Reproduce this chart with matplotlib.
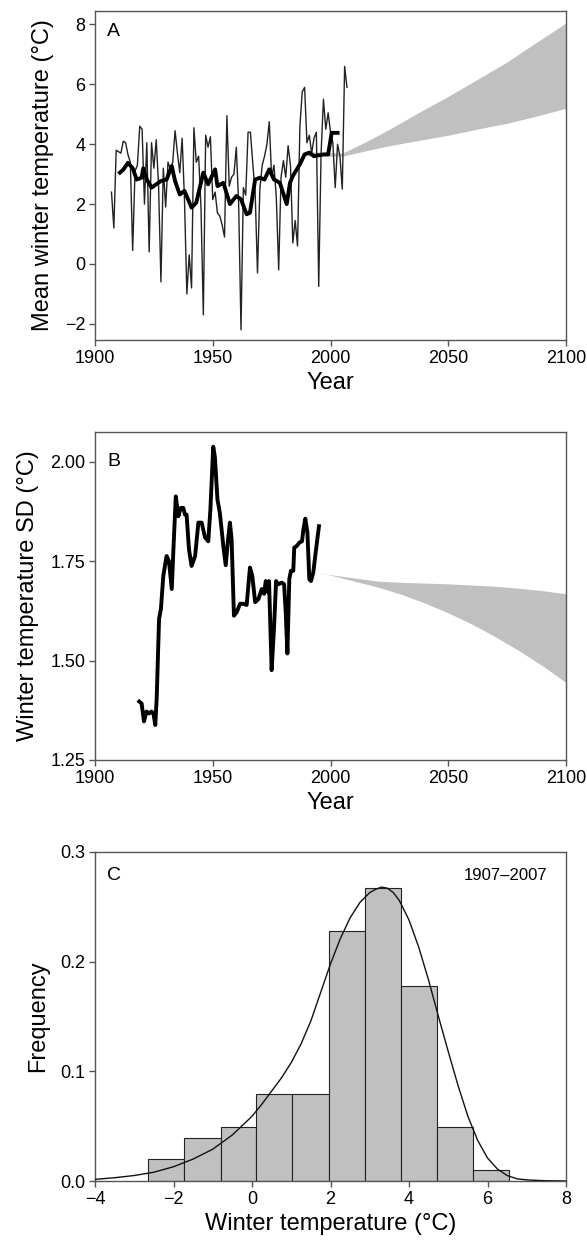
import numpy as np
import matplotlib
matplotlib.use("Agg")
import matplotlib.pyplot as plt

plt.rcParams['font.family'] = ['Liberation Sans', 'DejaVu Sans']

# ---------------- Panel A data ----------------
years_a = list(range(1907, 2008))
temp_a = [2.4, 1.2, 3.8, 3.75, 3.7, 4.1, 4.05, 3.65, 3.4, 0.45,
          3.1, 3.3, 4.6, 4.5, 2.0, 4.05, 0.4, 4.05, 3.2, 4.15,
          2.6, -0.6, 3.2, 1.9, 3.4, 3.15, 3.4, 4.45, 3.7, 3.05,
          4.2, 2.15, -1.0, 0.3, -0.8, 4.55, 3.4, 3.6, 1.9, -1.7,
          4.3, 3.9, 4.25, 2.15, 2.4, 1.7, 1.6, 1.3, 0.9, 4.95,
          2.6, 2.9, 3.0, 3.9, 2.0, -2.2, 2.55, 2.3, 4.4, 4.4,
          3.35, 2.4, -0.3, 2.5, 3.3, 3.6, 4.0, 4.75, 2.9, 3.3,
          2.2, -0.2, 2.9, 3.45, 2.9, 3.95, 3.3, 0.7, 1.45, 0.6,
          4.6, 5.75, 5.9, 4.05, 4.3, 3.7, 4.2, 4.4, -0.75, 3.7,
          5.5, 4.5, 5.05, 4.4, 4.05, 2.55, 4.0, 3.6, 2.5, 6.6,
          5.9]

smooth_years_a = [1910.6, 1912, 1914, 1916, 1917.7, 1919.8, 1920.5, 1922, 1924, 1926,
                  1928, 1930.4, 1932.6, 1934, 1936, 1938, 1941, 1943, 1946, 1948,
                  1951, 1952, 1954.5, 1957.3, 1960, 1962, 1964.4, 1965.8, 1968, 1970,
                  1972, 1974, 1976, 1978.5, 1981.4, 1982.8, 1984, 1987, 1989, 1991,
                  1993, 1997, 1999, 2000.5, 2003]
smooth_a = [3.05, 3.15, 3.38, 3.2, 2.82, 2.88, 3.2, 2.82, 2.55, 2.66,
            2.77, 2.82, 3.27, 2.77, 2.32, 2.44, 1.88, 2.05, 3.05, 2.66,
            3.16, 2.6, 2.71, 2.0, 2.27, 2.16, 1.66, 1.71, 2.82, 2.88,
            2.82, 3.16, 2.82, 2.71, 2.0, 2.71, 2.94, 3.33, 3.66, 3.72,
            3.6, 3.66, 3.66, 4.38, 4.38]

proj_years_a = [1990, 2005, 2015, 2025, 2037, 2050, 2062, 2075, 2087, 2100]
proj_low_a = [3.6, 3.6, 3.78, 3.95, 4.12, 4.3, 4.5, 4.7, 4.93, 5.2]
proj_high_a = [3.75, 3.7, 4.08, 4.5, 5.04, 5.6, 6.15, 6.75, 7.38, 8.05]

# ---------------- Panel B data ----------------
years_b = [1918.8, 1919.8, 1920.8, 1921.9, 1923, 1924, 1924.8, 1925.6, 1926.2, 1927.2,
           1928, 1929, 1930.4, 1931.4, 1932.6, 1933.3, 1934.3, 1935.4, 1936.4, 1937.5,
           1938.2, 1938.9, 1939.9, 1941, 1942.5, 1943.9, 1945.3, 1946.7, 1948.1, 1949,
           1950.2, 1950.9, 1952, 1953, 1954.5, 1955.5, 1956.5, 1957.3, 1958, 1959,
           1960.2, 1961.6, 1963, 1964.4, 1965.8, 1966.8, 1968, 1969.4, 1970.8, 1971.8,
           1972.5, 1973.5, 1973.9, 1975, 1976, 1976.9, 1977.8, 1979.3, 1980.3, 1981,
           1981.7, 1982.5, 1983.2, 1984.2, 1984.6, 1985.6, 1986.8, 1987.9, 1988.5, 1989.3,
           1990.2, 1991, 1991.7, 1992.7, 1993.7, 1995.1]
sd_b = [1.397, 1.392, 1.347, 1.372, 1.367, 1.372, 1.367, 1.338, 1.405, 1.605,
        1.63, 1.713, 1.763, 1.75, 1.68, 1.78, 1.913, 1.863, 1.884, 1.884,
        1.867, 1.867, 1.78, 1.738, 1.763, 1.847, 1.847, 1.81, 1.8, 1.88,
        2.038, 2.013, 1.905, 1.872, 1.788, 1.74, 1.805, 1.847, 1.805, 1.613,
        1.622, 1.643, 1.643, 1.64, 1.734, 1.713, 1.647, 1.655, 1.68, 1.668,
        1.7, 1.672, 1.7, 1.476, 1.58, 1.7, 1.692, 1.696, 1.692, 1.62,
        1.518, 1.705, 1.726, 1.726, 1.784, 1.788, 1.797, 1.80, 1.83, 1.857,
        1.822, 1.705, 1.70, 1.722, 1.772, 1.838]

proj_years_b = [1994, 2000, 2010, 2020, 2030, 2040, 2050, 2060, 2070, 2080, 2090, 2100]
proj_low_b = [1.72, 1.715, 1.70, 1.685, 1.667, 1.645, 1.62, 1.592, 1.56, 1.525, 1.487, 1.445]
proj_high_b = [1.72, 1.716, 1.708, 1.700, 1.697, 1.695, 1.693, 1.690, 1.687, 1.682, 1.676, 1.668]

# ---------------- Panel C data ----------------
bin_edges_c = [-2.65, -1.73, -0.80, 0.11, 1.03, 1.96, 2.87, 3.79, 4.71, 5.64, 6.55]
counts_c = [2, 4, 5, 8, 8, 23, 27, 18, 5, 1]
n_years_c = 101
curve_x_c = [-4.0, -3.5, -3.0, -2.5, -2.0, -1.5, -1.0, -0.5, 0.0, 0.25,
             0.5, 0.75, 1.0, 1.25, 1.5, 1.75, 2.0, 2.25, 2.5, 2.75,
             3.0, 3.15, 3.3, 3.45, 3.6, 3.75, 4.0, 4.25, 4.5, 4.75,
             5.0, 5.25, 5.5, 5.75, 6.0, 6.25, 6.5, 6.75, 7.0, 7.5, 8.0]
curve_y_c = [0.0015, 0.003, 0.005, 0.008, 0.013, 0.02, 0.029, 0.042, 0.059, 0.070,
             0.082, 0.094, 0.108, 0.125, 0.146, 0.172, 0.198, 0.221, 0.240, 0.254,
             0.263, 0.266, 0.268, 0.267, 0.263, 0.256, 0.238, 0.213, 0.183, 0.150,
             0.118, 0.087, 0.059, 0.037, 0.021, 0.011, 0.005, 0.002, 0.001, 0.0002, 0.0]

# ---------------- Figure ----------------
W, H = 587, 1246
fig = plt.figure(figsize=(W / 100, H / 100), dpi=100)

def add_ax(left, top, right, bottom):
    return fig.add_axes([left / W, 1 - bottom / H, (right - left) / W, (bottom - top) / H])

axA = add_ax(95, 11, 566, 340)
axB = add_ax(95, 432, 566, 760)
axC = add_ax(95, 852, 566, 1181)

spine_col = '#555555'
band_col = '#c0c0c0'
TICK_FS = 13
LAB_FS = 17
LET_FS = 14

def style(ax):
    for s in ax.spines.values():
        s.set_color(spine_col)
        s.set_linewidth(1.0)
    ax.tick_params(direction='out', length=4, width=1.0, color=spine_col,
                   labelsize=TICK_FS, pad=3)
    ax.tick_params(top=False, right=False)

# Panel A
axA.fill_between(proj_years_a, proj_low_a, proj_high_a, color=band_col, lw=0, zorder=1)
axA.plot(years_a, temp_a, color='#222222', lw=1.0, zorder=2)
axA.plot(smooth_years_a, smooth_a, color='black', lw=2.8, zorder=3, solid_joinstyle='round')
axA.set_xlim(1900, 2100)
axA.set_ylim(-2.54, 8.45)
axA.set_xticks([1900, 1950, 2000, 2050, 2100])
axA.set_yticks([-2, 0, 2, 4, 6, 8])
axA.set_yticklabels(['\u22122', '0', '2', '4', '6', '8'])
axA.set_xlabel('Year', fontsize=LAB_FS, labelpad=4)
axA.set_ylabel('Mean winter temperature (\u00b0C)', fontsize=LAB_FS, labelpad=8)
axA.text(0.026, 0.938, 'A', transform=axA.transAxes, fontsize=LET_FS, va='center', ha='left')
style(axA)

# Panel B
axB.fill_between(proj_years_b, proj_low_b, proj_high_b, color=band_col, lw=0, zorder=1)
axB.plot(years_b, sd_b, color='black', lw=2.8, zorder=3, solid_joinstyle='round')
axB.set_xlim(1900, 2100)
axB.set_ylim(1.25, 2.075)
axB.set_xticks([1900, 1950, 2000, 2050, 2100])
axB.set_yticks([1.25, 1.50, 1.75, 2.00])
axB.set_yticklabels(['1.25', '1.50', '1.75', '2.00'])
axB.set_xlabel('Year', fontsize=LAB_FS, labelpad=4)
axB.set_ylabel('Winter temperature SD (\u00b0C)', fontsize=LAB_FS, labelpad=8)
axB.text(0.026, 0.91, 'B', transform=axB.transAxes, fontsize=LET_FS, va='center', ha='left')
style(axB)

# Panel C
freqs_c = [c / n_years_c for c in counts_c]
widths_c = [bin_edges_c[i + 1] - bin_edges_c[i] for i in range(len(counts_c))]
axC.bar(bin_edges_c[:-1], freqs_c, width=widths_c, align='edge', color=band_col,
        edgecolor='#222222', linewidth=0.8, zorder=1)
axC.plot(curve_x_c, curve_y_c, color='#111111', lw=1.0, zorder=3)
axC.set_xlim(-4, 8)
axC.set_ylim(0, 0.3)
axC.set_xticks([-4, -2, 0, 2, 4, 6, 8])
axC.set_xticklabels(['\u22124', '\u22122', '0', '2', '4', '6', '8'])
axC.set_yticks([0.0, 0.1, 0.2, 0.3])
axC.set_yticklabels(['0.0', '0.1', '0.2', '0.3'])
axC.set_xlabel('Winter temperature (\u00b0C)', fontsize=LAB_FS, labelpad=4)
axC.set_ylabel('Frequency', fontsize=LAB_FS, labelpad=8)
axC.text(0.026, 0.93, 'C', transform=axC.transAxes, fontsize=LET_FS, va='center', ha='left')
axC.text(0.96, 0.93, '1907\u20132007', transform=axC.transAxes, fontsize=12,
         va='center', ha='right')
style(axC)

fig.savefig('out.png', dpi=100)
